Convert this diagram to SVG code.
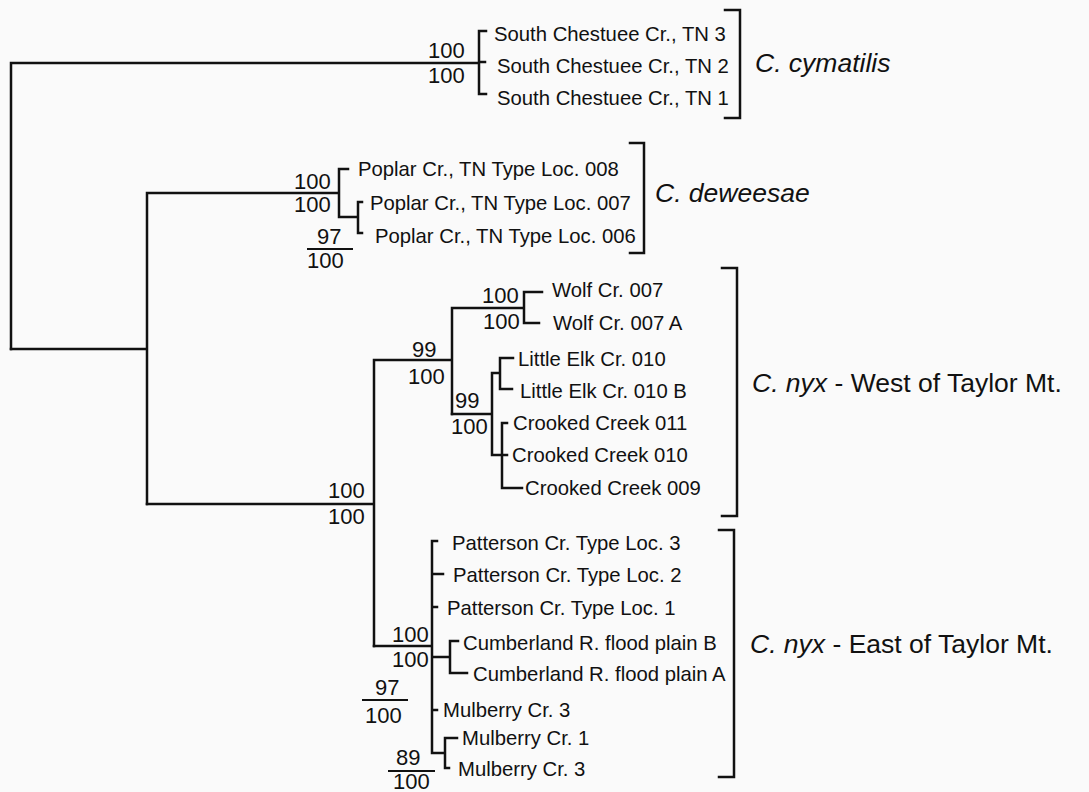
<svg xmlns="http://www.w3.org/2000/svg" width="1089" height="792" viewBox="0 0 1089 792">
<style>
.bg{fill:#fafafa}
.ln{fill:none;stroke:#111;stroke-width:2.5;stroke-linecap:square}
.fr{fill:none;stroke:#111;stroke-width:2}
.lf{font-family:"Liberation Sans",Arial,sans-serif;font-size:20.3px;fill:#111}
.bs{font-family:"Liberation Sans",Arial,sans-serif;font-size:22px;fill:#111}
.sp{font-family:"Liberation Sans",Arial,sans-serif;font-size:26.5px;fill:#111}
.it{font-style:italic}
</style>
<rect class="bg" x="0" y="0" width="1089" height="792"/>
<g id="connectors">
<path class="ln" d="M11,349 V63 H479 M479,31 V94 M479,31 H486 M479,62 H485 M479,94 H486"/>
<path class="ln" d="M11,349 H147 M147,193 V504 M147,193 H339 M339,169 V217 M339,169 H348 M339,217 H358 M358,202 V233 M358,202 H362 M358,233 H362"/>
<path class="ln" d="M147,504 H374 M374,360 V646 M374,360 H452 M452,308 V414 M452,308 H524 M524,292 V323 M524,292 H542 M524,323 H539"/>
<path class="ln" d="M452,414 H492 M492,373 V455 M492,373 H500 M500,358 V389 M500,358 H513 M500,389 H512 M492,455 H507 M502,423 V488 M502,423 H507 M502,488 H522"/>
<path class="ln" d="M374,646 H432 M432,541 V753 M432,541 H437 M432,574 H443 M432,607 H437 M432,657 H450 M450,641 V673 M450,641 H458 M450,673 H467 M432,710 H437 M432,753 H445 M445,738 V768 M445,738 H457 M445,768 H449"/>
</g>
<g id="support">
<g id="bs-cymatilis"><text class="bs" x="428" y="58">100</text><text class="bs" x="428" y="83">100</text></g>
<g id="bs-deweesae"><text class="bs" x="294" y="189">100</text><text class="bs" x="294" y="212">100</text></g>
<g id="bs-deweesae-sub"><text class="bs" x="317" y="244">97</text><path class="fr" d="M307,249 H353"/><text class="bs" x="307" y="268">100</text></g>
<g id="bs-nyx"><text class="bs" x="328" y="498">100</text><text class="bs" x="328" y="524">100</text></g>
<g id="bs-west"><text class="bs" x="412" y="357">99</text><text class="bs" x="408" y="384">100</text></g>
<g id="bs-wolf"><text class="bs" x="482" y="303">100</text><text class="bs" x="483" y="329">100</text></g>
<g id="bs-elk-crooked"><text class="bs" x="455" y="408">99</text><text class="bs" x="451" y="434">100</text></g>
<g id="bs-east"><text class="bs" x="392" y="642">100</text><text class="bs" x="392" y="667">100</text></g>
<g id="bs-east-sub"><text class="bs" x="375" y="695">97</text><path class="fr" d="M362,700 H408"/><text class="bs" x="365" y="723">100</text></g>
<g id="bs-mulberry"><text class="bs" x="396" y="765">89</text><path class="fr" d="M388,771 H435"/><text class="bs" x="393" y="789">100</text></g>
</g>
<g id="leaf-sc3"><text class="lf" x="494" y="41">South Chestuee Cr., TN 3</text></g>
<g id="leaf-sc2"><text class="lf" x="497" y="73">South Chestuee Cr., TN 2</text></g>
<g id="leaf-sc1"><text class="lf" x="497" y="105">South Chestuee Cr., TN 1</text></g>
<g id="leaf-p008"><text class="lf" x="358" y="176">Poplar Cr., TN Type Loc. 008</text></g>
<g id="leaf-p007"><text class="lf" x="370" y="210">Poplar Cr., TN Type Loc. 007</text></g>
<g id="leaf-p006"><text class="lf" x="375" y="243">Poplar Cr., TN Type Loc. 006</text></g>
<g id="leaf-wolf007"><text class="lf" x="552" y="297">Wolf Cr. 007</text></g>
<g id="leaf-wolf007a"><text class="lf" x="553" y="330">Wolf Cr. 007 A</text></g>
<g id="leaf-elk010"><text class="lf" x="518" y="366">Little Elk Cr. 010</text></g>
<g id="leaf-elk010b"><text class="lf" x="520" y="398">Little Elk Cr. 010 B</text></g>
<g id="leaf-crk011"><text class="lf" x="513" y="430">Crooked Creek 011</text></g>
<g id="leaf-crk010"><text class="lf" x="512" y="462">Crooked Creek 010</text></g>
<g id="leaf-crk009"><text class="lf" x="525" y="495">Crooked Creek 009</text></g>
<g id="leaf-pat3"><text class="lf" x="452" y="550">Patterson Cr. Type Loc. 3</text></g>
<g id="leaf-pat2"><text class="lf" x="453" y="582">Patterson Cr. Type Loc. 2</text></g>
<g id="leaf-pat1"><text class="lf" x="447" y="615">Patterson Cr. Type Loc. 1</text></g>
<g id="leaf-cumb"><text class="lf" x="463" y="650">Cumberland R. flood plain B</text></g>
<g id="leaf-cuma"><text class="lf" x="473" y="681">Cumberland R. flood plain A</text></g>
<g id="leaf-mul3a"><text class="lf" x="443" y="717">Mulberry Cr. 3</text></g>
<g id="leaf-mul1"><text class="lf" x="462" y="745">Mulberry Cr. 1</text></g>
<g id="leaf-mul3b"><text class="lf" x="458" y="776">Mulberry Cr. 3</text></g>
<g id="clade-cymatilis"><path class="ln" d="M725,10 H740 V118 H725"/><text class="sp it" x="755" y="72">C. cymatilis</text></g>
<g id="clade-deweesae"><path class="ln" d="M630,143 H644 V253 H630"/><text class="sp it" x="655" y="202">C. deweesae</text></g>
<g id="clade-nyx-west"><path class="ln" d="M722,268 H737 V516 H722"/><text class="sp" x="752" y="392"><tspan class="it">C. nyx</tspan> - West of Taylor Mt.</text></g>
<g id="clade-nyx-east"><path class="ln" d="M719,530 H734 V777 H719"/><text class="sp" x="750" y="653"><tspan class="it">C. nyx</tspan> - East of Taylor Mt.</text></g>
</svg>
